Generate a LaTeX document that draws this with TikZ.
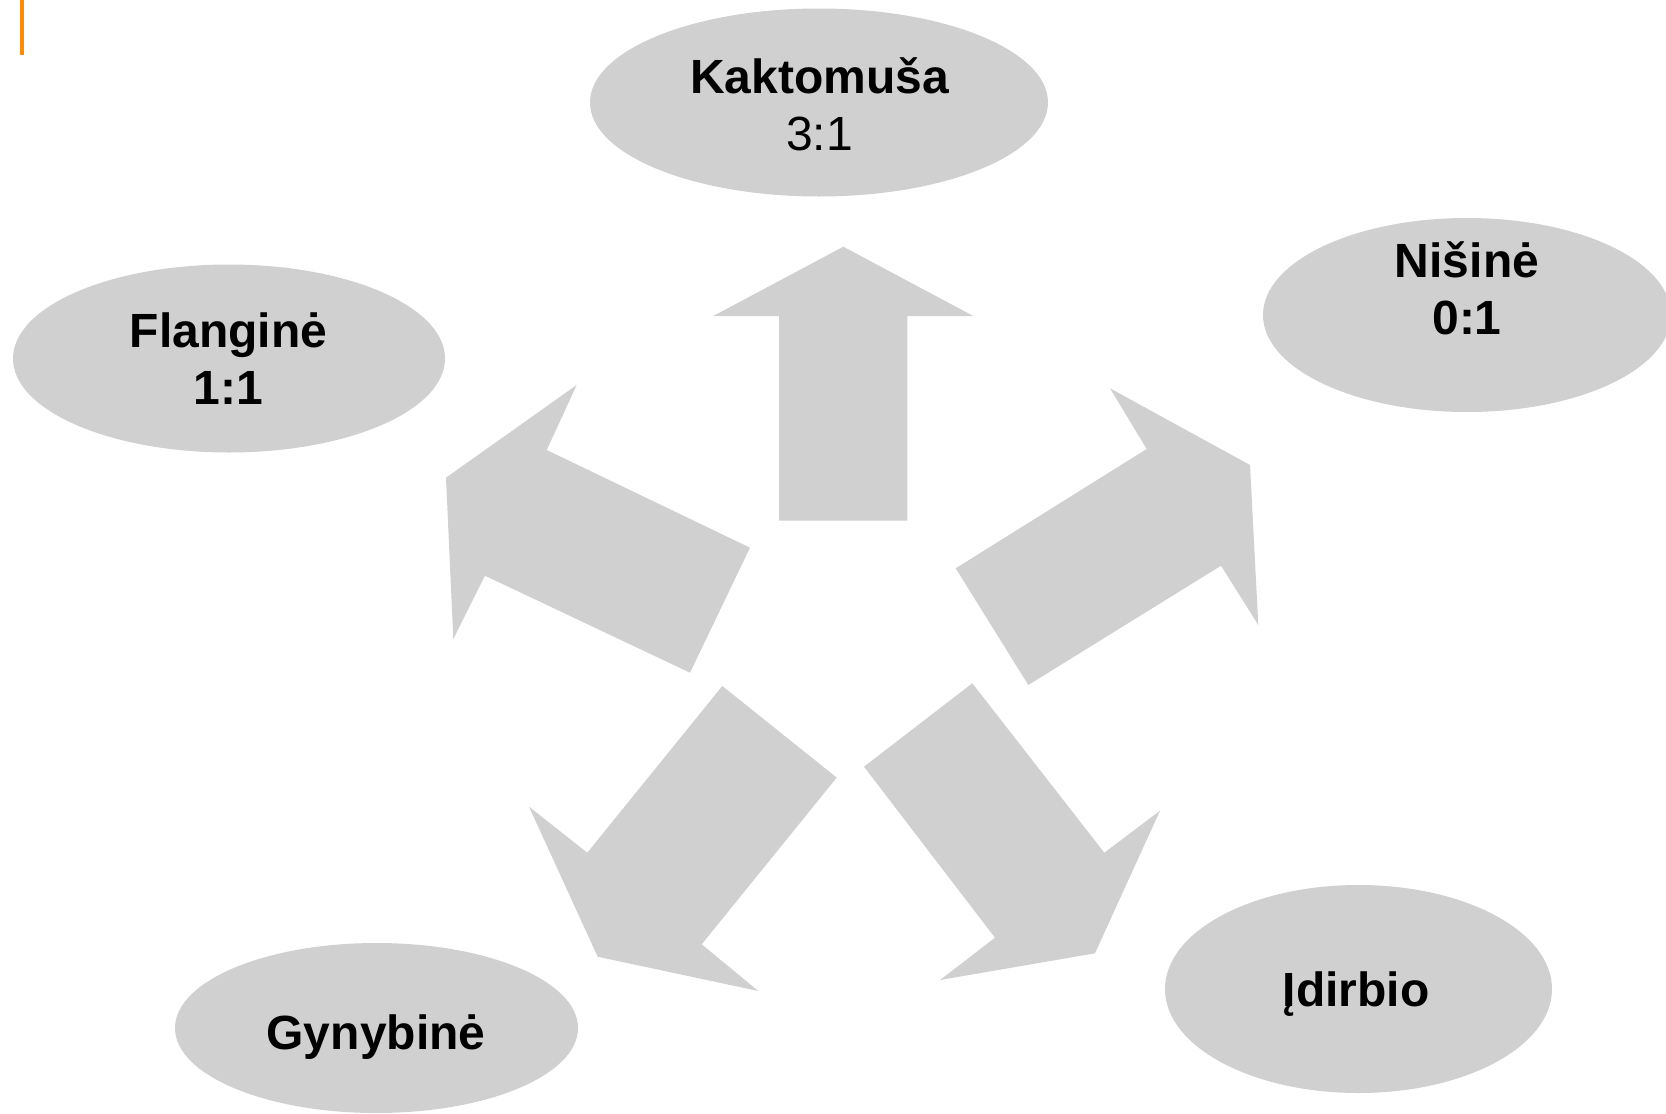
\documentclass[tikz,border=0pt]{standalone}
\usepackage{fontspec}
\setmainfont{Liberation Sans}
\usetikzlibrary{shapes.geometric}
\definecolor{shapegray}{RGB}{208,208,208}
\definecolor{barorange}{RGB}{255,140,0}
\tikzset{
  oval/.style={ellipse, fill=shapegray, draw=none, inner sep=0pt},
  blockarrow/.style={fill=shapegray, draw=none},
  lblb/.style={font=\bfseries\fontsize{48}{57}\selectfont, anchor=base, inner sep=0pt},
  lblr/.style={font=\fontsize{48}{57}\selectfont, anchor=base, inner sep=0pt}
}
\begin{document}
\begin{tikzpicture}[x=1pt,y=-1pt]
\useasboundingbox (0,0) rectangle (1666,1114);
\clip (0,0) rectangle (1666,1114);
\fill[white] (0,0) rectangle (1666,1114);
% orange bar
\fill[barorange] (20,0) rectangle (24,55);
% ellipses
\node[oval, minimum width=458pt, minimum height=188pt] (kakt) at (819,102.5) {};
\node[oval, minimum width=432pt, minimum height=188pt] (flang) at (229,358.5) {};
\node[oval, minimum width=408pt, minimum height=194pt] (nisine) at (1467,315) {};
\node[oval, minimum width=403pt, minimum height=170pt] (gyny) at (376.5,1028) {};
\node[oval, minimum width=387pt, minimum height=208pt] (idirb) at (1358.5,989) {};
% texts
\node[lblb] (kaktA) at (819.5,93) {Kaktomuša};
\node[lblr] (kaktB) at (819.5,150) {3:1};
\node[lblb] (flangA) at (228.5,347.5) {Flanginė};
\node[lblb] (flangB) at (228.5,404.5) {1:1};
\node[lblb] (nisA) at (1467,277) {Nišinė};
\node[lblb] (nisB) at (1467,334) {0:1};
\node[lblb] (gynyA) at (376,1049) {Gynybinė};
\node[lblb] (idirbA) at (1356,1006) {Įdirbio};
% block arrows
\fill[blockarrow] (843.3,246.7) -- (973.3,316) -- (907.3,316) -- (907.3,520.7)
  -- (779,520.7) -- (779,316) -- (713.3,316) -- cycle;
\fill[blockarrow] (446,477.7) -- (576.7,385) -- (546.7,450) -- (750,547.7)
  -- (690,672.7) -- (485,575.7) -- (453.3,639) -- cycle;
\fill[blockarrow] (1250,465) -- (1258.3,625) -- (1221,565.7) -- (1028.3,685)
  -- (955.7,568.3) -- (1146.7,449) -- (1110,388.3) -- cycle;
\fill[blockarrow] (722.3,686) -- (836.7,777.6) -- (701.7,944.3) -- (758.3,991)
  -- (597.7,956.7) -- (529,806.7) -- (587.3,852.7) -- cycle;
\fill[blockarrow] (972.3,683.3) -- (1104.3,852.7) -- (1160,810.7) -- (1095,953.3)
  -- (940,980) -- (995,937.7) -- (864,766.7) -- cycle;
\end{tikzpicture}
\end{document}
